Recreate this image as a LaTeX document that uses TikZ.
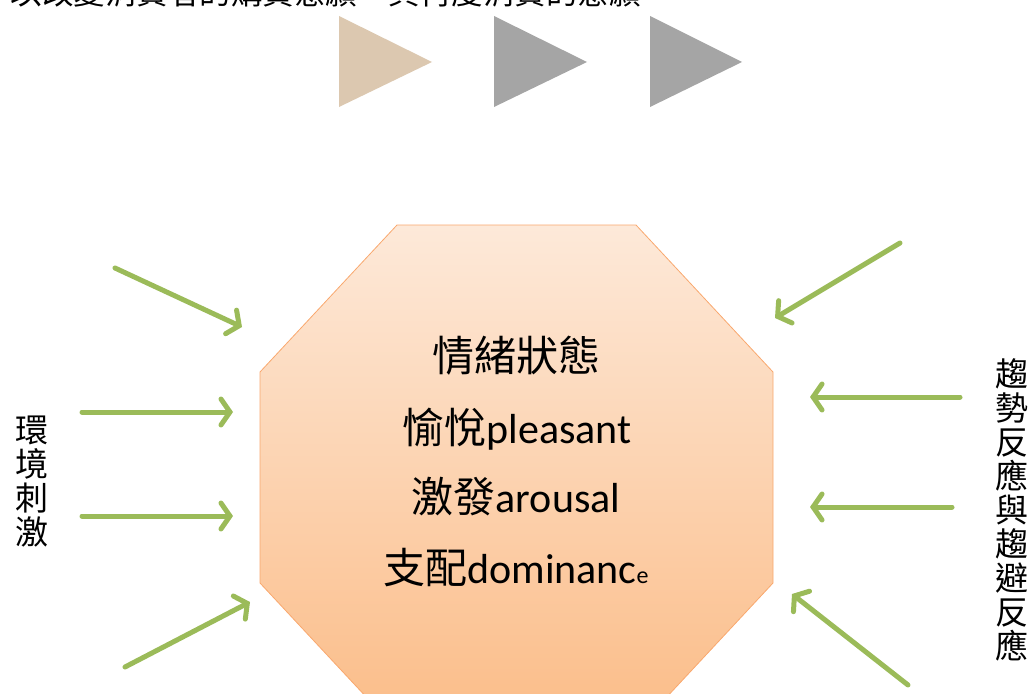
\documentclass[tikz,border=0pt]{standalone}
\usepackage{fontspec}
\setmainfont{Carlito}
\newfontfamily\cjk{Noto Sans CJK TC}
\usetikzlibrary{arrows.meta}
\definecolor{arrgreen}{HTML}{9BBB59}
\definecolor{octtop}{HTML}{FDE9D9}
\definecolor{octbot}{HTML}{FBBC87}
\definecolor{octline}{HTML}{F9A86E}
\definecolor{tantri}{HTML}{DCC8B0}
\definecolor{graytri}{HTML}{A5A5A5}
\begin{document}
\begin{tikzpicture}[x=1pt,y=-1pt,
  arr/.style={draw=arrgreen, line width=5pt, line cap=round,
    -{Straight Barb[length=9pt,width=26pt,line cap=round]}},
  octtext/.style={anchor=base, inner sep=0pt, font=\fontsize{42}{50}\selectfont},
  vlabel/.style={align=center, inner sep=0pt, font=\cjk\fontsize{33}{34}\selectfont}]
\useasboundingbox (0,0) rectangle (1030,693);
\clip (0,0) rectangle (1030,693);

% top (cut-off) text
\node[anchor=base east, inner sep=0pt, font=\cjk\fontsize{31.5}{34}\selectfont] (toptext) at (641,4.5) {以改變消費者的購買意願、其再度消費的意願};

% triangles
\fill[tantri] (339,16) -- (432,62) -- (339,107) -- cycle;
\fill[graytri] (494,16) -- (587,62) -- (494,107) -- cycle;
\fill[graytri] (650,16) -- (742,62) -- (650,107) -- cycle;

% octagon
\shadedraw[top color=octtop, bottom color=octbot, draw=octline, line width=0.8pt]
  (397,225) -- (636,225) -- (773,372) -- (773,583) -- (636,730) -- (397,730) -- (260,583) -- (260,372) -- cycle;

\node[octtext] (l1) at (516,371) {\cjk 情緒狀態};
\node[octtext] (l2) at (517,443) {{\cjk 愉悅}pleasant};
\node[octtext] (l3) at (516,512) {{\cjk 激發}arousal};
\node[octtext] (l4) at (516,583) {{\cjk 支配}dominanc{\fontsize{24}{24}\selectfont e}};

% side labels
\node[vlabel] (left) at (32,481.5) {環\\境\\刺\\激};
\node[vlabel] (right) at (1012,510) {趨\\勢\\反\\應\\與\\趨\\避\\反\\應};

% arrows
\coordinate (a1s) at (115,268); \coordinate (a1e) at (242,327);
\coordinate (a2s) at (82,412);  \coordinate (a2e) at (233,412);
\coordinate (a3s) at (82,516);  \coordinate (a3e) at (233,516);
\coordinate (a4s) at (125,667); \coordinate (a4e) at (250,602);
\coordinate (b1s) at (900,243); \coordinate (b1e) at (775,318);
\coordinate (b2s) at (960,397); \coordinate (b2e) at (810,397);
\coordinate (b3s) at (952,507); \coordinate (b3e) at (810,507);
\coordinate (b4s) at (908,685); \coordinate (b4e) at (792,594);
\draw[arr] (a1s) -- (a1e);
\draw[arr] (a2s) -- (a2e);
\draw[arr] (a3s) -- (a3e);
\draw[arr] (a4s) -- (a4e);
\draw[arr] (b1s) -- (b1e);
\draw[arr] (b2s) -- (b2e);
\draw[arr] (b3s) -- (b3e);
\draw[arr] (b4s) -- (b4e);
\end{tikzpicture}
\end{document}
